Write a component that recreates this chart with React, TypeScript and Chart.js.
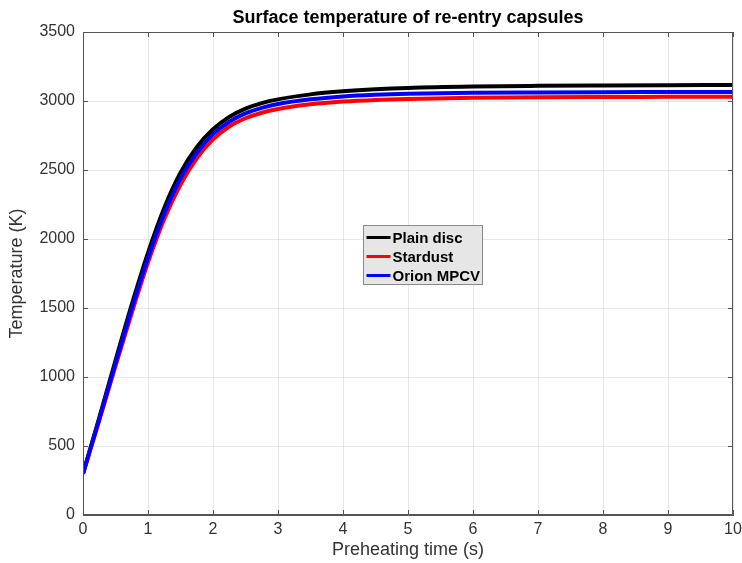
import React, { useEffect, useRef } from "react";
import { Chart, registerables } from "chart.js";

Chart.register(...registerables);

const chartTitle = "Surface temperature of re-entry capsules";
const xAxisTitle = "Preheating time (s)";
const yAxisTitle = "Temperature (K)";

const timeS = [0, 0.25, 0.5, 0.75, 1, 1.25, 1.5, 1.75, 2, 2.25, 2.5, 2.75, 3, 3.5, 4, 4.5, 5, 6, 7, 8, 9, 10];
const plainDisc = [300, 705, 1120, 1525, 1900, 2225, 2480, 2665, 2795, 2885, 2945, 2985, 3012, 3048, 3070, 3085, 3095, 3105, 3110, 3113, 3115, 3116];
const stardust = [300, 685, 1080, 1465, 1830, 2145, 2395, 2585, 2722, 2815, 2875, 2915, 2942, 2976, 2996, 3008, 3015, 3023, 3027, 3029, 3030, 3031];
const orionMPCV = [300, 695, 1100, 1495, 1865, 2185, 2440, 2625, 2760, 2850, 2910, 2950, 2978, 3012, 3033, 3045, 3052, 3059, 3062, 3064, 3065, 3066];

const seriesLabels = ["Plain disc", "Stardust", "Orion MPCV"];
const seriesColors = ["#000000", "#ff0000", "#0000ff"];

const FONT = "'Liberation Sans', Arial, Helvetica, sans-serif";
const AXIS_COLOR = "#555555";
const TEXT_COLOR = "#333333";

const toPoints = (ys: number[]) => ys.map((y, i) => ({ x: timeS[i], y }));

const titlePlugin = {
  id: "matlabTitle",
  afterDraw(chart: any) {
    const { ctx, chartArea } = chart;
    ctx.save();
    ctx.font = `bold 18px ${FONT}`;
    ctx.fillStyle = "#000";
    ctx.textAlign = "center";
    ctx.textBaseline = "middle";
    ctx.fillText(chartTitle, (chartArea.left + chartArea.right) / 2, 18);
    ctx.restore();
  },
};

const boxPlugin = {
  id: "matlabBox",
  afterDatasetsDraw(chart: any) {
    const { ctx, chartArea, scales } = chart;
    const { left, right, top, bottom } = chartArea;
    const tl = 5;
    ctx.save();
    ctx.strokeStyle = AXIS_COLOR;
    ctx.lineWidth = 1;
    ctx.beginPath();
    ctx.rect(left + 0.5, top + 0.5, right - left - 1, bottom - top - 1);
    scales.x.ticks.forEach((t: any) => {
      const px = Math.round(scales.x.getPixelForValue(t.value)) + 0.5;
      ctx.moveTo(px, bottom);
      ctx.lineTo(px, bottom - tl);
      ctx.moveTo(px, top);
      ctx.lineTo(px, top + tl);
    });
    scales.y.ticks.forEach((t: any) => {
      const py = Math.round(scales.y.getPixelForValue(t.value)) + 0.5;
      ctx.moveTo(left, py);
      ctx.lineTo(left + tl, py);
      ctx.moveTo(right, py);
      ctx.lineTo(right - tl, py);
    });
    ctx.stroke();
    ctx.restore();
  },
};

const legendPlugin = {
  id: "insideLegend",
  afterDraw(chart: any) {
    const { ctx, chartArea } = chart;
    const w = chartArea.right - chartArea.left;
    const h = chartArea.bottom - chartArea.top;
    const bx = Math.round(chartArea.left + w * 0.4308) + 0.5;
    const by = Math.round(chartArea.top + h * 0.3996) + 0.5;
    const bw = 119;
    const bh = 59;
    ctx.save();
    ctx.fillStyle = "#e6e6e6";
    ctx.fillRect(bx, by, bw, bh);
    ctx.strokeStyle = "#8a8a8a";
    ctx.lineWidth = 1;
    ctx.strokeRect(bx, by, bw, bh);
    ctx.font = `bold 15px ${FONT}`;
    ctx.textBaseline = "middle";
    ctx.textAlign = "left";
    chart.data.datasets.forEach((ds: any, i: number) => {
      const cy = by + 12 + i * 19;
      ctx.strokeStyle = ds.borderColor;
      ctx.lineWidth = 3;
      ctx.beginPath();
      ctx.moveTo(bx + 3, cy);
      ctx.lineTo(bx + 27, cy);
      ctx.stroke();
      ctx.fillStyle = "#000";
      ctx.fillText(ds.label, bx + 29, cy + 1);
    });
    ctx.restore();
  },
};

export default function App() {
  const canvasRef = useRef<HTMLCanvasElement | null>(null);

  useEffect(() => {
    if (!canvasRef.current) return;
    const seriesValues = [plainDisc, stardust, orionMPCV];
    const chart = new Chart(canvasRef.current, {
      type: "line",
      data: {
        datasets: seriesValues.map((vals, i) => ({
          label: seriesLabels[i],
          data: toPoints(vals),
          borderColor: seriesColors[i],
          backgroundColor: seriesColors[i],
          borderWidth: 4,
          pointRadius: 0,
          fill: false,
          cubicInterpolationMode: "monotone" as const,
          order: 3 - i,
        })),
      },
      options: {
        responsive: false,
        animation: false,
        layout: { padding: { left: 0, right: 9, top: 32, bottom: 0 } },
        plugins: {
          legend: { display: false },
          title: { display: false },
          tooltip: { enabled: false },
        },
        scales: {
          x: {
            type: "linear",
            min: 0,
            max: 10,
            ticks: {
              stepSize: 1,
              color: TEXT_COLOR,
              font: { family: FONT, size: 16 },
              padding: 5,
              maxRotation: 0,
              callback: (v: any) => String(v),
            },
            grid: { color: "rgba(0,0,0,0.09)", drawTicks: false },
            border: { display: true, color: AXIS_COLOR },
            title: {
              display: true,
              text: xAxisTitle,
              color: TEXT_COLOR,
              font: { family: FONT, size: 18 },
              padding: { top: 2, bottom: 2 },
            },
            afterFit: (scale: any) => {
              scale.height = 48;
              scale.paddingLeft = 0;
              scale.paddingRight = 0;
            },
          },
          y: {
            type: "linear",
            min: 0,
            max: 3500,
            ticks: {
              stepSize: 500,
              color: TEXT_COLOR,
              font: { family: FONT, size: 16 },
              padding: 8,
              callback: (v: any) => String(v),
            },
            grid: { color: "rgba(0,0,0,0.09)", drawTicks: false },
            border: { display: true, color: AXIS_COLOR },
            title: {
              display: true,
              text: yAxisTitle,
              color: TEXT_COLOR,
              font: { family: FONT, size: 18 },
              padding: { top: 6, bottom: 6 },
            },
            afterFit: (scale: any) => {
              scale.width = 83;
              scale.paddingTop = 0;
              scale.paddingBottom = 0;
            },
          },
        },
      },
      plugins: [titlePlugin, boxPlugin, legendPlugin],
    });
    return () => chart.destroy();
  }, []);

  return (
    <div style={{ position: "absolute", left: 0, top: 0, width: 742, height: 563, background: "#fff" }}>
      <canvas ref={canvasRef} width={742} height={563} style={{ display: "block" }} />
    </div>
  );
}
